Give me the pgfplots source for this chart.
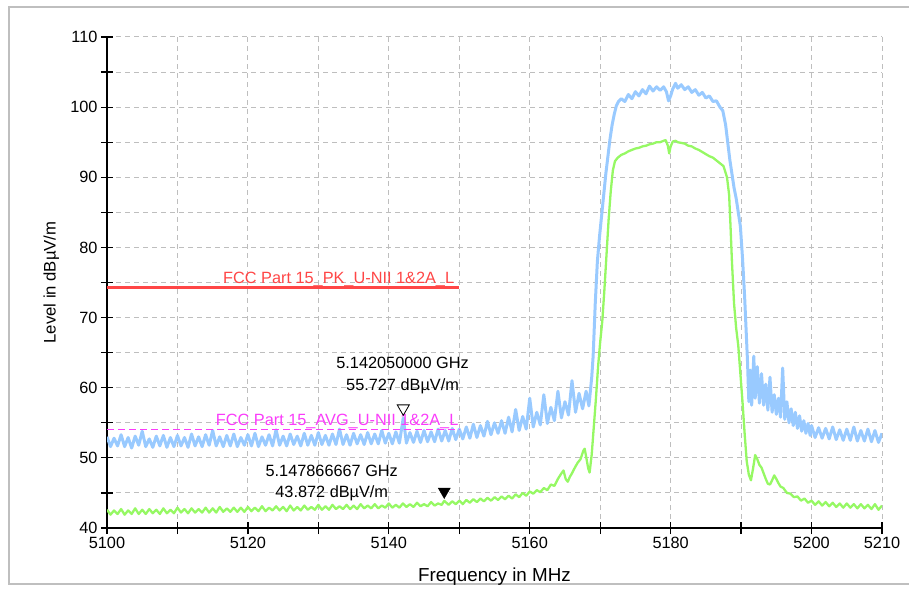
\documentclass[border=0pt]{standalone}
\usepackage{fontspec}
\setmainfont{Liberation Sans}
\usepackage{pgfplots}
\pgfplotsset{compat=1.18}
\definecolor{pkblue}{RGB}{153,202,255}
\definecolor{avgreen}{RGB}{150,248,100}
\definecolor{limred}{RGB}{255,70,70}
\definecolor{limmag}{RGB}{250,60,250}
\definecolor{gridgray}{RGB}{190,190,190}
\newcommand{\fs}{\fontsize{16.3bp}{19bp}\selectfont}
\begin{document}
\begin{tikzpicture}
\useasboundingbox (-107bp,-64bp) rectangle (802bp,528bp);
\draw[black!25, line width=1.5bp] (-98bp,-56bp) rectangle (815bp,521bp);
\begin{axis}[
  at={(0,0)}, anchor=south west,
  scale only axis, width=775bp, height=491bp,
  xmin=5100, xmax=5210, ymin=40, ymax=110,
  axis x line*=bottom, axis y line*=left,
  axis line style={black, line width=1.5bp, -},
  xtick={5100,5110,...,5210},
  xticklabels={5100,,5120,,5140,,5160,,5180,,5200,5210},
  ytick={40,45,...,110},
  yticklabels={40,,50,,60,,70,,80,,90,,100,,110},
  tick align=center, major tick length=12bp,
  tick style={black, line width=1.2bp},
  grid=major,
  major grid style={gridgray, line width=1bp, dash pattern=on 5bp off 4bp},
  tick label style={font=\fs},
  /pgf/number format/assume math mode=true,
  xlabel={Frequency in MHz}, ylabel={Level in dBµV/m},
  xlabel style={font=\fontsize{18.8bp}{22bp}\selectfont, at={(axis description cs:0.5,-0.1)}, anchor=center},
  ylabel style={font=\fontsize{16.7bp}{19bp}\selectfont, at={(axis description cs:-0.072,0.5)}, anchor=center},
]
% peak trace
\addplot[pkblue, line width=3bp, line join=round] coordinates {
(5100.0,53.0) (5100.5,51.6) (5101.0,52.8) (5101.5,51.7) (5102.0,53.3) (5102.5,51.6) (5103.0,52.9) (5103.5,51.4)
(5104.0,53.1) (5104.5,51.8) (5105.0,53.8) (5105.5,51.6) (5106.0,52.7) (5106.5,51.5) (5107.0,53.1) (5107.5,51.7)
(5108.0,53.2) (5108.5,51.5) (5109.0,52.9) (5109.5,51.6) (5110.0,53.2) (5110.5,51.7) (5111.0,52.9) (5111.5,51.5)
(5112.0,53.4) (5112.5,51.7) (5113.0,53.0) (5113.5,51.6) (5114.0,53.3) (5114.5,51.8) (5115.0,53.9) (5115.5,51.7)
(5116.0,53.0) (5116.5,51.6) (5117.0,53.2) (5117.5,51.7) (5118.0,53.4) (5118.5,51.6) (5119.0,52.9) (5119.5,51.8)
(5120.0,53.3) (5120.5,51.7) (5121.0,53.5) (5121.5,51.6) (5122.0,53.0) (5122.5,51.8) (5123.0,53.3) (5123.5,51.7)
(5124.0,54.0) (5124.5,51.8) (5125.0,53.1) (5125.5,51.7) (5126.0,53.4) (5126.5,51.9) (5127.0,53.1) (5127.5,51.7)
(5128.0,53.5) (5128.5,51.8) (5129.0,53.2) (5129.5,51.8) (5130.0,53.6) (5130.5,51.9) (5131.0,53.2) (5131.5,51.8)
(5132.0,53.4) (5132.5,51.9) (5133.0,54.1) (5133.5,51.9) (5134.0,53.3) (5134.5,51.8) (5135.0,53.5) (5135.5,52.0)
(5136.0,53.3) (5136.5,51.9) (5137.0,53.6) (5137.5,52.0) (5138.0,53.4) (5138.5,52.0) (5139.0,53.9) (5139.5,52.1)
(5140.0,53.5) (5140.5,52.0) (5141.0,53.7) (5141.5,52.1) (5142.05,55.7) (5142.5,52.1) (5143.0,53.6) (5143.5,52.2)
(5144.0,53.8) (5144.5,52.2) (5145.0,53.9) (5145.5,52.3) (5146.0,53.7) (5146.5,52.3) (5147.0,54.1) (5147.5,52.4)
(5148.0,53.9) (5148.5,52.4) (5149.0,54.2) (5149.5,52.6) (5150.0,54.1) (5150.5,52.7) (5151.0,54.4) (5151.5,52.8)
(5152.0,54.8) (5152.5,52.9) (5153.0,54.6) (5153.5,53.1) (5154.0,55.2) (5154.5,53.3) (5155.0,55.0) (5155.5,53.5)
(5156.0,55.3) (5156.5,53.5) (5157.0,55.8) (5157.5,53.7) (5158.0,56.9) (5158.5,53.9) (5159.0,55.9) (5159.5,54.1)
(5160.0,58.5) (5160.5,54.4) (5161.0,56.5) (5161.5,54.7) (5162.0,59.0) (5162.5,54.9) (5163.0,57.2) (5163.5,55.3)
(5164.0,59.5) (5164.5,55.7) (5165.0,58.0) (5165.5,56.1) (5166.0,61.0) (5166.5,56.5) (5167.0,59.2) (5167.5,57.0)
(5168.0,59.5) (5168.4,57.4) (5168.8,61.5) (5169.0,64.5) (5169.3,72.0) (5169.6,78.0) (5169.9,81.5) (5170.2,84.5)
(5170.5,87.5) (5170.8,90.5) (5171.1,93.0) (5171.4,95.5) (5171.7,97.5) (5172.0,99.0) (5172.3,100.2) (5172.6,100.8)
(5173.0,101.2) (5173.5,100.8) (5174.0,101.8) (5174.5,101.2) (5175.0,102.2) (5175.5,101.6) (5176.0,102.5) (5176.5,101.9)
(5177.0,103.0) (5177.5,102.3) (5178.0,102.9) (5178.5,102.4) (5179.0,102.9) (5179.4,102.2) (5179.7,100.9) (5180.0,101.6)
(5180.3,102.6) (5180.7,103.4) (5181.0,102.7) (5181.5,103.2) (5182.0,102.5) (5182.5,102.9) (5183.0,102.1) (5183.5,102.5)
(5184.0,101.7) (5184.5,102.1) (5185.0,101.3) (5185.5,101.6) (5186.0,100.8) (5186.5,100.9) (5187.0,100.0) (5187.4,99.5)
(5187.8,97.5) (5188.1,95.0) (5188.4,92.5) (5188.7,90.5) (5189.0,88.5) (5189.3,87.0) (5189.6,85.0) (5189.9,83.0)
(5190.2,78.5) (5190.5,73.0) (5190.7,68.5) (5190.9,64.0) (5191.1,58.0) (5191.3,62.5) (5191.5,57.5) (5191.8,64.5)
(5192.0,58.5) (5192.3,63.0) (5192.6,57.8) (5192.9,62.0) (5193.2,57.5) (5193.5,60.5) (5193.8,56.8) (5194.1,61.5)
(5194.4,56.5) (5194.7,59.0) (5195.0,56.2) (5195.3,58.5) (5195.6,55.8) (5195.9,62.8) (5196.2,55.5) (5196.5,58.0)
(5196.8,55.0) (5197.1,57.0) (5197.4,54.6) (5197.7,56.5) (5198.0,54.2) (5198.3,56.0) (5198.6,53.8) (5198.9,55.3)
(5199.2,53.5) (5199.5,54.9) (5199.8,53.2) (5200.0,54.6) (5200.5,52.9) (5201.0,54.3) (5201.5,52.8) (5202.0,54.2)
(5202.5,52.7) (5203.0,54.4) (5203.5,52.6) (5204.0,54.0) (5204.5,52.5) (5205.0,54.1) (5205.5,52.5) (5206.0,54.4)
(5206.5,52.4) (5207.0,53.9) (5207.5,52.4) (5208.0,54.1) (5208.5,52.3) (5209.0,53.9) (5209.5,52.2) (5210.0,53.5)
};
% average trace
\addplot[avgreen, line width=2.3bp, line join=round] coordinates {
(5100.0,42.6) (5100.5,41.9) (5101.0,42.5) (5101.5,42.0) (5102.0,42.7) (5102.5,41.9) (5103.0,42.5) (5103.5,42.0)
(5104.0,42.8) (5104.5,42.0) (5105.0,42.6) (5105.5,42.0) (5106.0,42.7) (5106.5,42.1) (5107.0,42.6) (5107.5,42.0)
(5108.0,42.8) (5108.5,42.1) (5109.0,42.6) (5109.5,42.1) (5110.0,42.9) (5110.5,42.2) (5111.0,42.7) (5111.5,42.1)
(5112.0,42.8) (5112.5,42.2) (5113.0,42.7) (5113.5,42.2) (5114.0,42.9) (5114.5,42.2) (5115.0,42.8) (5115.5,42.2)
(5116.0,43.0) (5116.5,42.3) (5117.0,42.8) (5117.5,42.3) (5118.0,42.9) (5118.5,42.3) (5119.0,42.9) (5119.5,42.3)
(5120.0,43.0) (5120.5,42.4) (5121.0,42.9) (5121.5,42.4) (5122.0,43.1) (5122.5,42.4) (5123.0,42.9) (5123.5,42.5)
(5124.0,43.1) (5124.5,42.5) (5125.0,43.0) (5125.5,42.4) (5126.0,43.2) (5126.5,42.5) (5127.0,43.0) (5127.5,42.5)
(5128.0,43.2) (5128.5,42.6) (5129.0,43.0) (5129.5,42.6) (5130.0,43.3) (5130.5,42.6) (5131.0,43.1) (5131.5,42.6)
(5132.0,43.3) (5132.5,42.7) (5133.0,43.1) (5133.5,42.7) (5134.0,43.3) (5134.5,42.7) (5135.0,43.2) (5135.5,42.7)
(5136.0,43.4) (5136.5,42.8) (5137.0,43.2) (5137.5,42.8) (5138.0,43.4) (5138.5,42.8) (5139.0,43.2) (5139.5,42.9)
(5140.0,43.5) (5140.5,42.9) (5141.0,43.3) (5141.5,42.9) (5142.0,43.5) (5142.5,43.0) (5143.0,43.4) (5143.5,43.0)
(5144.0,43.6) (5144.5,43.1) (5145.0,43.4) (5145.5,43.1) (5146.0,43.7) (5146.5,43.2) (5147.0,43.5) (5147.5,43.3)
(5147.87,43.87) (5148.5,43.3) (5149.0,43.8) (5149.5,43.4) (5150.0,43.9) (5150.5,43.4) (5151.0,44.0) (5151.5,43.6)
(5152.0,44.1) (5152.5,43.7) (5153.0,44.2) (5153.5,43.8) (5154.0,44.3) (5154.5,43.9) (5155.0,44.4) (5155.5,44.0)
(5156.0,44.5) (5156.5,44.1) (5157.0,44.6) (5157.5,44.2) (5158.0,44.8) (5158.5,44.4) (5159.0,45.0) (5159.5,44.6)
(5160.0,45.2) (5160.5,44.9) (5161.0,45.4) (5161.5,45.1) (5162.0,45.7) (5162.5,45.4) (5163.0,46.2) (5163.5,46.0)
(5164.0,47.0) (5164.5,47.8) (5164.8,48.2) (5165.1,47.0) (5165.4,46.6) (5165.7,47.3) (5166.0,47.8) (5166.4,48.6)
(5166.8,49.3) (5167.2,49.8) (5167.6,51.0) (5167.8,51.3) (5168.0,50.2) (5168.3,48.5) (5168.5,47.9) (5168.8,50.5)
(5169.1,54.5) (5169.4,58.5) (5169.7,63.0) (5170.0,66.5) (5170.3,69.5) (5170.6,74.0) (5170.9,79.0) (5171.2,84.0)
(5171.5,88.0) (5171.8,91.0) (5172.1,92.3) (5172.5,92.8) (5173.0,93.2) (5173.5,93.4) (5174.0,93.7) (5174.5,93.9)
(5175.0,94.1) (5175.5,94.2) (5176.0,94.4) (5176.5,94.5) (5177.0,94.7) (5177.5,94.8) (5178.0,95.0) (5178.5,95.0)
(5179.0,95.2) (5179.3,95.3) (5179.6,94.5) (5179.8,93.4) (5180.0,94.4) (5180.3,95.1) (5180.7,95.2) (5181.0,95.0)
(5181.5,94.9) (5182.0,94.8) (5182.5,94.5) (5183.0,94.4) (5183.5,94.1) (5184.0,93.9) (5184.5,93.6) (5185.0,93.3)
(5185.5,93.0) (5186.0,92.8) (5186.5,92.4) (5187.0,92.0) (5187.5,91.6) (5188.0,90.0) (5188.3,87.5) (5188.5,83.0)
(5188.7,78.0) (5189.0,72.0) (5189.3,68.5) (5189.6,66.0) (5189.9,62.0) (5190.2,58.0) (5190.5,53.5) (5190.8,49.5)
(5191.1,47.6) (5191.4,46.8) (5191.7,48.5) (5192.0,50.4) (5192.3,49.8) (5192.6,49.0) (5192.9,48.6) (5193.2,47.8)
(5193.5,47.0) (5193.8,46.3) (5194.1,46.2) (5194.4,46.8) (5194.7,47.5) (5195.0,47.0) (5195.3,46.4) (5195.6,45.9)
(5196.0,45.7) (5196.5,45.0) (5197.0,44.9) (5197.5,44.4) (5198.0,44.5) (5198.5,43.9) (5199.0,44.2) (5199.5,43.6)
(5200.0,43.9) (5200.5,43.3) (5201.0,43.8) (5201.5,43.2) (5202.0,43.7) (5202.5,43.1) (5203.0,43.6) (5203.5,43.0)
(5204.0,43.5) (5204.5,42.9) (5205.0,43.5) (5205.5,42.9) (5206.0,43.4) (5206.5,42.8) (5207.0,43.4) (5207.5,42.8)
(5208.0,43.3) (5208.5,42.7) (5209.0,43.4) (5209.5,42.6) (5210.0,43.2)
};
% limit lines
\addplot[limred, line width=2.5bp] coordinates {(5100,74.3) (5150,74.3)};
\addplot[limmag, line width=1.2bp, dash pattern=on 7bp off 4bp] coordinates {(5100,54.0) (5150,54.0)};
% markers
\addplot[black, line width=0.8bp, mark=triangle, mark size=7bp,
  mark options={yshift=9.33bp, rotate=180, solid}] coordinates {(5142.05,55.727)};
\addplot[black, mark=triangle*, mark size=7bp,
  mark options={yshift=9.33bp, rotate=180, fill=black}] coordinates {(5147.866667,43.872)};
% labels
\node[anchor=base east, text=limred, font=\fs, inner sep=0pt] at (axis cs:5149.3,74.8) {FCC Part 15\_PK\_U-NII 1\&2A\_L};
\node[anchor=base east, text=limmag, font=\fs, inner sep=0pt] at (axis cs:5149.9,54.65) {FCC Part 15\_AVG\_U-NII 1\&2A\_L};
\node[anchor=base, font=\fs, inner sep=0pt] at (axis cs:5141.95,62.75) {5.142050000 GHz};
\node[anchor=base, font=\fs, inner sep=0pt] at (axis cs:5141.95,59.6) {55.727 dBµV/m};
\node[anchor=base, font=\fs, inner sep=0pt] at (axis cs:5131.9,47.4) {5.147866667 GHz};
\node[anchor=base, font=\fs, inner sep=0pt] at (axis cs:5131.9,44.4) {43.872 dBµV/m};
\end{axis}
\end{tikzpicture}
\end{document}
